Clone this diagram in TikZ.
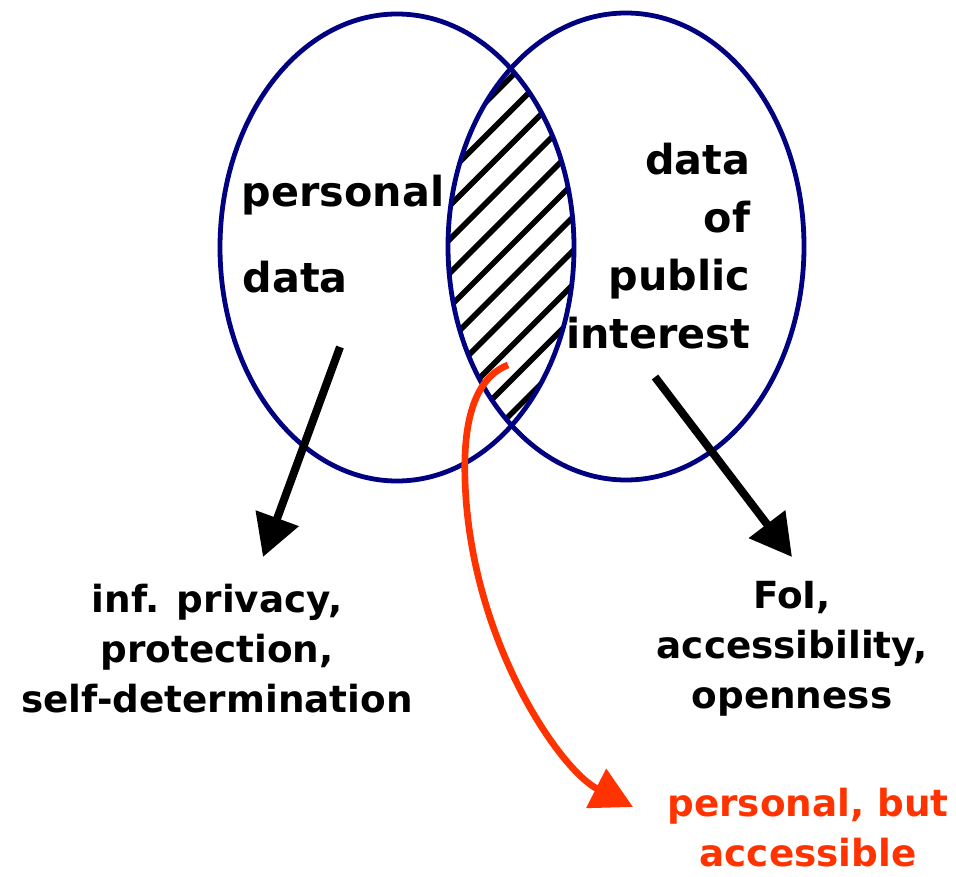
\documentclass[tikz,border=0pt]{standalone}
\usepackage{fontspec}
\setmainfont{DejaVu Sans}
\usetikzlibrary{arrows.meta}
\definecolor{ringblue}{RGB}{0,0,128}
\definecolor{markred}{RGB}{255,51,0}

\begin{document}
\begin{tikzpicture}[x=0.75pt,y=0.75pt,yscale=-1,xscale=1,
  ring/.style={draw=ringblue,line width=3.6pt},
  hatch/.style={line width=4.2pt,black},
  bigarrow/.style={line width=6pt,black,-{Triangle[length=31pt,width=33pt]}},
  curvearrow/.style={line width=5pt,markred,-{Triangle[length=31pt,width=32pt]}},
  innertext/.style={font=\fontsize{31}{43.3}\selectfont\bfseries},
  outertext/.style={font=\fontsize{28}{37.5}\selectfont\bfseries,align=center}]

\useasboundingbox (0,0) rectangle (956,877);

% overlap hatching
\begin{scope}
\clip (397,247.5) ellipse [x radius=177, y radius=233.5];
\clip (626,246.5) ellipse [x radius=178, y radius=233.5];
\foreach \k in {0,...,10} {
  \pgfmathsetmacro{\c}{588+33.7*\k}
  \draw [hatch] (\c-440,440) -- (\c-50,50);
}
\end{scope}

% the two sets
\draw [ring] (397,247.5) ellipse [x radius=177, y radius=233.5];
\draw [ring] (626,246.5) ellipse [x radius=178, y radius=233.5];

% labels inside
\node [innertext, anchor=base west] (personal) at (237,207) {personal};
\node [innertext, anchor=base west] (data) at (238,292) {data};
\node [innertext, align=right, anchor=base east] (public) at (755,348) {data\\of\\public\\interest};

% labels below
\node [outertext, anchor=base] (privacy) at (217,712) {inf. privacy,\\protection,\\self-determination};
\node [outertext, anchor=base] (foi) at (792,708) {FoI,\\accessibility,\\openness};
\node [outertext, markred, anchor=base] (accessible) at (808,866) {personal, but\\accessible};

% arrows
\coordinate (pdfrom) at (340,347);
\coordinate (pdto) at (263,557);
\coordinate (pifrom) at (655,377);
\coordinate (pito) at (792,557);
\coordinate (redfrom) at (508,365);
\coordinate (redmid) at (465,480);
\coordinate (redto) at (633,807);

\draw [bigarrow] (pdfrom) -- (pdto);
\draw [bigarrow] (pifrom) -- (pito);
\draw [curvearrow] (redfrom) .. controls (475,378) and (463,420) .. (redmid)
  .. controls (470,640) and (560,770) .. (redto);

\end{tikzpicture}
\end{document}
